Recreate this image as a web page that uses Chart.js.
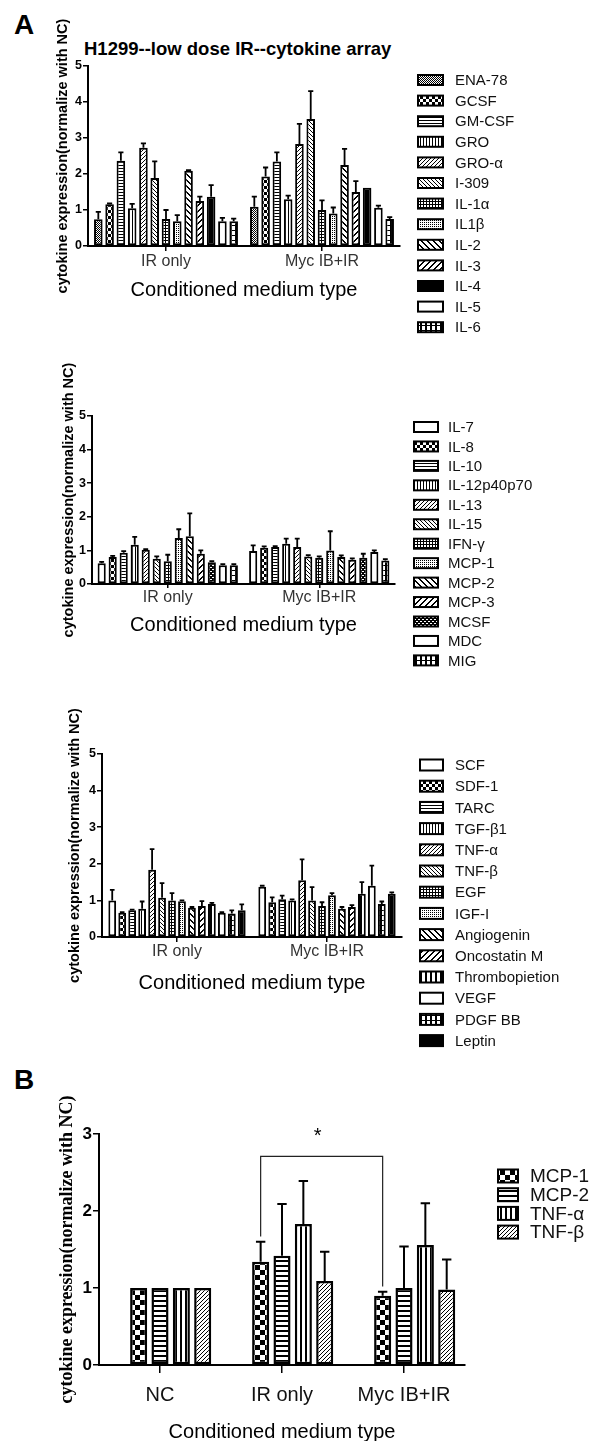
<!DOCTYPE html>
<html>
<head>
<meta charset="utf-8">
<script src="https://cdn.jsdelivr.net/npm/chart.js@4.4.1/dist/chart.umd.min.js"></script>
<style>
body { margin: 0; background: #fff; width: 592px; height: 1441px; position: relative; overflow: hidden; font-family: "Liberation Sans", Arial, sans-serif; }
canvas { position: absolute; left: 0; }
.lbl { position: absolute; font-weight: bold; color: #000; line-height: 1; white-space: nowrap; }
</style>
</head>
<body>
<div class="lbl" style="left:14px;top:11px;font-size:28px">A</div>
<div class="lbl" style="left:84px;top:40px;font-size:18.5px">H1299--low dose IR--cytokine array</div>
<div class="lbl" style="left:14px;top:1066px;font-size:28px">B</div>
<canvas id="c1" width="592" height="340" style="top:0"></canvas>
<canvas id="c2" width="592" height="330" style="top:340px"></canvas>
<canvas id="c3" width="592" height="385" style="top:670px"></canvas>
<canvas id="c4" width="592" height="394" style="top:1050px"></canvas>
<script>
// ---- data ----
const groups = ['IR only', 'Myc IB+IR'];

const names1 = ['ENA-78', 'GCSF', 'GM-CSF', 'GRO', 'GRO-α', 'I-309', 'IL-1α', 'IL1β', 'IL-2', 'IL-3', 'IL-4', 'IL-5', 'IL-6'];
const ir1 = [0.74, 1.16, 2.37, 1.05, 2.73, 1.89, 0.75, 0.69, 2.09, 1.25, 1.37, 0.69, 0.69];
const irErr1 = [0.95, 1.18, 2.6, 1.17, 2.85, 2.35, 1.0, 0.86, 2.11, 1.37, 1.69, 0.78, 0.76];
const myc1 = [1.09, 1.93, 2.35, 1.3, 2.83, 3.53, 1.0, 0.9, 2.25, 1.5, 1.62, 1.06, 0.75];
const mycErr1 = [1.37, 2.18, 2.6, 1.4, 3.39, 4.3, 1.27, 1.07, 2.7, 1.8, 1.63, 1.12, 0.8];

const names2 = ['IL-7', 'IL-8', 'IL-10', 'IL-12p40p70', 'IL-13', 'IL-15', 'IFN-γ', 'MCP-1', 'MCP-2', 'MCP-3', 'MCSF', 'MDC', 'MIG'];
const ir2 = [0.62, 0.8, 0.93, 1.17, 1.02, 0.75, 0.68, 1.37, 1.42, 0.9, 0.65, 0.56, 0.56];
const irErr2 = [0.66, 0.84, 0.98, 1.4, 1.04, 0.82, 0.87, 1.63, 2.1, 1.0, 0.68, 0.59, 0.59];
const myc2 = [0.98, 1.08, 1.1, 1.2, 1.1, 0.82, 0.78, 1.0, 0.8, 0.72, 0.78, 0.95, 0.7];
const mycErr2 = [1.15, 1.12, 1.13, 1.35, 1.35, 0.86, 0.82, 1.57, 0.85, 0.76, 0.9, 1.0, 0.74];

const names3 = ['SCF', 'SDF-1', 'TARC', 'TGF-β1', 'TNF-α', 'TNF-β', 'EGF', 'IGF-I', 'Angiogenin', 'Oncostatin M', 'Thrombopietion', 'VEGF', 'PDGF BB', 'Leptin'];
const ir3 = [1.0, 0.66, 0.73, 0.77, 1.84, 1.07, 1.0, 0.98, 0.8, 0.85, 0.9, 0.66, 0.64, 0.73];
const irErr3 = [1.29, 0.68, 0.75, 0.97, 2.4, 1.47, 1.2, 1.0, 0.82, 0.98, 0.93, 0.68, 0.73, 0.89];
const myc3 = [1.37, 0.95, 1.03, 1.0, 1.55, 1.0, 0.85, 1.14, 0.77, 0.82, 1.18, 1.4, 0.9, 1.18];
const mycErr3 = [1.4, 1.08, 1.13, 1.03, 2.12, 1.36, 0.95, 1.2, 0.82, 0.87, 1.5, 1.95, 0.97, 1.22];

const groupsB = ['NC', 'IR only', 'Myc IB+IR'];
const namesB = ['MCP-1', 'MCP-2', 'TNF-α', 'TNF-β'];
const mcp1 = [1.0, 1.34, 0.9];
const mcp1Err = [1.0, 1.6, 0.95];
const mcp2 = [1.0, 1.42, 1.0];
const mcp2Err = [1.0, 2.09, 1.54];
const tnfa = [1.0, 1.83, 1.56];
const tnfaErr = [1.0, 2.39, 2.1];
const tnfb = [1.0, 1.09, 0.98];
const tnfbErr = [1.0, 1.47, 1.37];
const bracketVals = [1.67, 2.71, 1.02]; // left foot, top, right foot

// ---- fills (hatch patterns like the GraphPad original) ----
function pattern(w, h, ink) {
    const c = document.createElement('canvas');
    c.width = w; c.height = h;
    const g = c.getContext('2d');
    g.fillStyle = '#fff'; g.fillRect(0, 0, w, h);
    g.fillStyle = '#000';
    for (let y = 0; y < h; y++)
        for (let x = 0; x < w; x++)
            if (ink(x, y)) g.fillRect(x, y, 1, 1);
    return g.createPattern(c, 'repeat');
}

const fills = {
    white: '#fff',
    black: '#000',
    dense: pattern(2, 2, (x, y) => (x + y) % 2 === 0),
    light: pattern(2, 2, (x, y) => x === 0 && y === 0),
    checker: pattern(6, 6, (x, y) => (Math.floor(x / 3) + Math.floor(y / 3)) % 2 === 0),
    hlines: pattern(4, 3, (x, y) => y === 0),
    vlines: pattern(3, 4, (x, y) => x === 0),
    diagF: pattern(4, 4, (x, y) => (x + y) % 4 === 0),
    diagB: pattern(4, 4, (x, y) => (x - y + 4) % 4 === 0),
    grid: pattern(3, 3, (x, y) => x === 0 || y === 0),
    thickB: pattern(6, 6, (x, y) => (x - y + 6) % 6 < 2),
    thickF: pattern(6, 6, (x, y) => (x + y) % 6 < 2),
    bricks: pattern(5, 5, (x, y) => x < 2 || y === 0),
    vbricks: pattern(5, 4, (x, y) => x < 2),
    wavy: pattern(4, 4, (x, y) => !((y === 1 && x < 2) || (y === 3 && x > 1))),
    bigChecker: pattern(10, 10, (x, y) => (Math.floor(x / 5) + Math.floor(y / 5)) % 2 === 0),
    bigH: pattern(4, 5, (x, y) => y < 2),
    bigV: pattern(5, 4, (x, y) => x < 2),
    bigDiag: pattern(4, 4, (x, y) => (x + y) % 4 === 0)
};

const styles1 = ['dense', 'checker', 'hlines', 'vlines', 'diagF', 'diagB', 'grid', 'light', 'thickB', 'thickF', 'black', 'white', 'bricks'];
const styles2 = ['white', 'checker', 'hlines', 'vlines', 'diagF', 'diagB', 'grid', 'light', 'thickB', 'thickF', 'wavy', 'white', 'bricks'];
const styles3 = ['white', 'checker', 'hlines', 'vlines', 'diagF', 'diagB', 'grid', 'light', 'thickB', 'thickF', 'vbricks', 'white', 'bricks', 'black'];
const stylesB = ['bigChecker', 'bigH', 'bigV', 'bigDiag'];

// ---- plugins ----
const errorBars = {
    id: 'errorBars',
    afterDatasetsDraw(chart, args, o) {
        const ctx = chart.ctx;
        const y = chart.scales.y;
        chart.data.datasets.forEach((ds, di) => {
            if (!ds.errTop) return;
            chart.getDatasetMeta(di).data.forEach((bar, i) => {
                const top = y.getPixelForValue(ds.errTop[i]);
                if (top >= bar.y - 0.5) return;
                const cw = bar.width * o.cap / 2;
                ctx.save();
                ctx.strokeStyle = '#000';
                ctx.lineWidth = o.lw;
                ctx.beginPath();
                ctx.moveTo(bar.x, bar.y);
                ctx.lineTo(bar.x, top);
                ctx.moveTo(bar.x - cw, top);
                ctx.lineTo(bar.x + cw, top);
                ctx.stroke();
                ctx.restore();
            });
        });
    }
};

const sideLegend = {
    id: 'sideLegend',
    afterDraw(chart, args, o) {
        const ctx = chart.ctx;
        let row = 0;
        chart.data.datasets.forEach(ds => {
            if (!ds.label) return;
            const yy = o.y + row * o.step;
            ctx.save();
            ctx.fillStyle = ds.backgroundColor;
            ctx.fillRect(o.x, yy - o.h / 2, o.w, o.h);
            ctx.strokeStyle = '#000';
            ctx.lineWidth = o.lw;
            ctx.strokeRect(o.x, yy - o.h / 2, o.w, o.h);
            ctx.fillStyle = '#111';
            ctx.font = o.textFont;
            ctx.textBaseline = 'middle';
            ctx.fillText(ds.label, o.textX, yy + 1);
            ctx.restore();
            row++;
        });
    }
};

const bracket = {
    id: 'bracket',
    afterDatasetsDraw(chart, args, o) {
        if (!o.on) return;
        const ctx = chart.ctx;
        const y = chart.scales.y;
        const bars = chart.getDatasetMeta(o.dataset).data;
        const xL = bars[1].x, xR = bars[2].x;
        const [l, t, r] = bracketVals;
        ctx.save();
        ctx.strokeStyle = '#222';
        ctx.lineWidth = 1.2;
        ctx.beginPath();
        ctx.moveTo(xL, y.getPixelForValue(l));
        ctx.lineTo(xL, y.getPixelForValue(t));
        ctx.lineTo(xR, y.getPixelForValue(t));
        ctx.lineTo(xR, y.getPixelForValue(r));
        ctx.stroke();
        ctx.fillStyle = '#000';
        ctx.font = '20px "Liberation Sans", Arial, sans-serif';
        ctx.textAlign = 'center';
        ctx.textBaseline = 'middle';
        ctx.fillText('*', (xL + xR) / 2 - 4, y.getPixelForValue(t) - 20);
        ctx.restore();
    }
};

Chart.defaults.font.family = '"Liberation Sans", Arial, sans-serif';
Chart.defaults.color = '#000';

function cytokineSets(names, styles, a, aErr, b, bErr) {
    return names.map((n, i) => ({
        label: n,
        data: [a[i], b[i]],
        errTop: [aErr[i], bErr[i]],
        backgroundColor: fills[styles[i]]
    }));
}

function makeChart(id, labels, datasets, o) {
    return new Chart(document.getElementById(id), {
        type: 'bar',
        data: { labels: labels, datasets: datasets },
        options: {
            responsive: false,
            animation: false,
            devicePixelRatio: 1,
            layout: { padding: o.pad },
            datasets: {
                bar: {
                    categoryPercentage: o.cat,
                    barPercentage: o.bar,
                    borderColor: '#000',
                    borderWidth: o.bw,
                    borderSkipped: false
                }
            },
            plugins: {
                legend: { display: false },
                tooltip: { enabled: false },
                errorBars: o.err,
                sideLegend: o.legend,
                bracket: o.bracket || { on: false }
            },
            scales: {
                x: {
                    grid: { offset: false, drawOnChartArea: false, drawTicks: true, tickLength: o.xTick, color: '#000', lineWidth: 1.5 },
                    border: { display: true, color: '#000', width: 2 },
                    ticks: { font: { size: o.xFont }, color: o.xColor, padding: o.xPad, maxRotation: 0, autoSkip: false },
                    title: { display: true, text: 'Conditioned medium type', font: { size: 20 }, color: '#000', padding: 0 },
                    afterFit: s => { s.height = o.xH; }
                },
                y: {
                    min: 0,
                    max: o.yMax,
                    ticks: { stepSize: 1, font: { size: o.yFont, weight: 'bold' }, color: '#000', padding: 1 },
                    grid: { drawOnChartArea: false, drawTicks: true, tickLength: o.yTick, color: '#000', lineWidth: 1.5 },
                    border: { display: true, color: '#000', width: 2 },
                    title: { display: true, text: 'cytokine expression(normalize with NC)', font: o.yTitleFont, color: '#000', padding: 0 },
                    afterFit: s => { s.width = o.yW; }
                }
            }
        },
        plugins: [errorBars, sideLegend, bracket]
    });
}

const panelCommon = {
    yMax: 5, yFont: 12.5, yTick: 5, xFont: 16, xColor: '#333',
    yTitleFont: { size: 14.5, weight: 'bold' },
    err: { cap: 0.6, lw: 1.8 }, bw: 2
};

makeChart('c1', groups, cytokineSets(names1, styles1, ir1, irErr1, myc1, mycErr1), Object.assign({}, panelCommon, {
    pad: { left: 54, top: 66, right: 192, bottom: 38 }, yW: 34, xH: 56, xTick: 5, xPad: 1,
    cat: 0.94, bar: 0.76,
    legend: { x: 418, y: 80, step: 20.6, w: 25, h: 10, lw: 2, textX: 455, textFont: '15px "Liberation Sans", Arial, sans-serif' }
}));

makeChart('c2', groups, cytokineSets(names2, styles2, ir2, irErr2, myc2, mycErr2), Object.assign({}, panelCommon, {
    pad: { left: 60, top: 76, right: 197, bottom: 33 }, yW: 32, xH: 53, xTick: 4, xPad: 0,
    cat: 0.945, bar: 0.74,
    legend: { x: 414, y: 87, step: 19.45, w: 24, h: 10, lw: 2, textX: 448, textFont: '15px "Liberation Sans", Arial, sans-serif' }
}));

makeChart('c3', groups, cytokineSets(names3, styles3, ir3, irErr3, myc3, mycErr3), Object.assign({}, panelCommon, {
    pad: { left: 66, top: 84, right: 190, bottom: 60 }, yW: 36, xH: 58, xTick: 5, xPad: 0,
    cat: 0.93, bar: 0.78,
    legend: { x: 420, y: 95, step: 21.2, w: 23, h: 11, lw: 2, textX: 455, textFont: '15px "Liberation Sans", Arial, sans-serif' }
}));

// Panel B: GraphPad leaves an empty first slot, so the tick sits under the second bar
const setsB = [{ label: '', data: [null, null, null], backgroundColor: 'rgba(0,0,0,0)', borderWidth: 0 }]
    .concat([[mcp1, mcp1Err], [mcp2, mcp2Err], [tnfa, tnfaErr], [tnfb, tnfbErr]].map((p, i) => ({
        label: namesB[i],
        data: p[0],
        errTop: p[1],
        backgroundColor: fills[stylesB[i]]
    })));

makeChart('c4', groupsB, setsB, {
    pad: { left: 57, top: 84, right: 127, bottom: 0 }, yW: 42, xH: 79, xTick: 8, xPad: 10,
    yMax: 3, yFont: 17, yTick: 6, xFont: 20, xColor: '#111',
    yTitleFont: { size: 18, weight: 'bold', family: '"Liberation Serif", "Times New Roman", serif' },
    cat: 0.875, bar: 0.8, bw: 2.5,
    err: { cap: 0.55, lw: 2 },
    bracket: { on: true, dataset: 1 },
    legend: { x: 498, y: 126, step: 18.7, w: 20, h: 13, lw: 2, textX: 530, textFont: '19px "Liberation Sans", Arial, sans-serif' }
});
</script>
</body>
</html>
